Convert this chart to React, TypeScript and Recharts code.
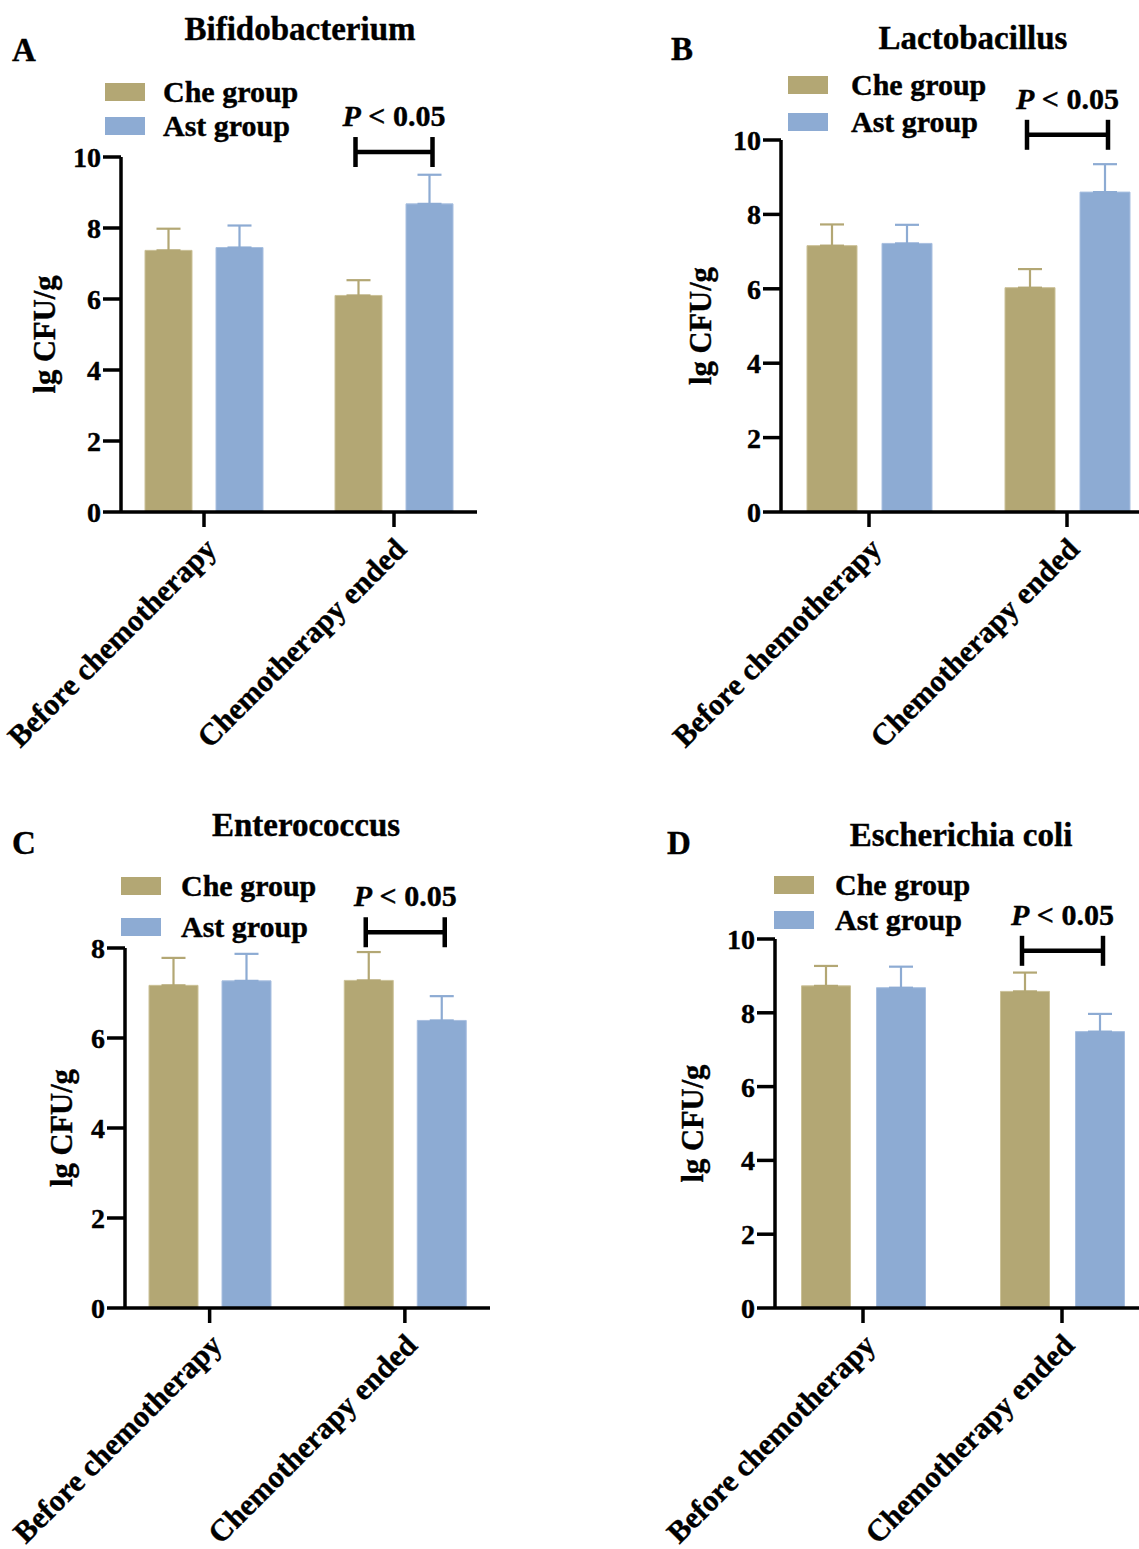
import React from 'react';
import { BarChart, Bar, XAxis, YAxis, ErrorBar, Legend, LabelList } from 'recharts';

document.body.style.margin = '0';

const FONT = '"Liberation Serif", "Times New Roman", Times, serif';
const TAN = '#b3a774';
const BLUE = '#8dabd3';

const categories = ['Before chemotherapy', 'Chemotherapy ended'];
const seriesNames = ['Che group', 'Ast group'];
const seriesColors = [TAN, BLUE];

// lg CFU/g, mean and SD (only the upper bar is drawn)
const bifidoChe = [7.37, 6.1];
const bifidoCheSd = [0.61, 0.43];
const bifidoAst = [7.45, 8.68];
const bifidoAstSd = [0.62, 0.82];

const lactoChe = [7.16, 6.03];
const lactoCheSd = [0.57, 0.5];
const lactoAst = [7.22, 8.6];
const lactoAstSd = [0.5, 0.75];

const enteroChe = [7.17, 7.28];
const enteroCheSd = [0.61, 0.63];
const enteroAst = [7.27, 6.39];
const enteroAstSd = [0.6, 0.54];

const ecoliChe = [8.73, 8.58];
const ecoliCheSd = [0.54, 0.51];
const ecoliAst = [8.68, 7.49];
const ecoliAstSd = [0.57, 0.48];

const yTicks10 = [0, 2, 4, 6, 8, 10];
const yTicks8 = [0, 2, 4, 6, 8];
const sigLevels = [10.14, 10.14, 8.35, 9.68];
const sigText = '< 0.05';

const buildRows = (che: number[], cheSd: number[], ast: number[], astSd: number[]) =>
  categories.map((name, i) => ({
    name,
    che: che[i],
    cheErr: [0, cheSd[i]],
    ast: ast[i],
    astErr: [0, astSd[i]],
  }));

const panels = [
  {
    letter: 'A', title: 'Bifidobacterium',
    rows: buildRows(bifidoChe, bifidoCheSd, bifidoAst, bifidoAstSd),
    che: bifidoChe, yMax: 10, ticks: yTicks10, sig: sigLevels[0],
    box: { left: 0, top: 0, width: 560, height: 780 },
    plot: { left: 121, top: 157, right: 477, bottom: 512 },
    pad: { left: -12, right: -12 }, barSize: 47, barGap: 24,
    yLabelX: 44,
    legend: { left: 105, top: 83, row: 33.5, textX: 163 },
    titlePos: { x: 300, y: 40 }, letterPos: { x: 12, y: 61 },
  },
  {
    letter: 'B', title: 'Lactobacillus',
    rows: buildRows(lactoChe, lactoCheSd, lactoAst, lactoAstSd),
    che: lactoChe, yMax: 10, ticks: yTicks10, sig: sigLevels[1],
    box: { left: 560, top: 0, width: 579, height: 780 },
    plot: { left: 781, top: 140, right: 1139, bottom: 512 },
    pad: { left: -11, right: -27 }, barSize: 50, barGap: 25,
    yLabelX: 700,
    legend: { left: 788, top: 76, row: 37, textX: 851 },
    titlePos: { x: 973, y: 49 }, letterPos: { x: 671, y: 60 },
  },
  {
    letter: 'C', title: 'Enterococcus',
    rows: buildRows(enteroChe, enteroCheSd, enteroAst, enteroAstSd),
    che: enteroChe, yMax: 8, ticks: yTicks8, sig: sigLevels[2],
    box: { left: 0, top: 780, width: 560, height: 769 },
    plot: { left: 125, top: 948, right: 490, bottom: 1308 },
    pad: { left: -13, right: -12.5 }, barSize: 49, barGap: 24,
    yLabelX: 61,
    legend: { left: 121, top: 877, row: 41, textX: 181 },
    titlePos: { x: 306, y: 836 }, letterPos: { x: 12, y: 854 },
  },
  {
    letter: 'D', title: 'Escherichia coli',
    rows: buildRows(ecoliChe, ecoliCheSd, ecoliAst, ecoliAstSd),
    che: ecoliChe, yMax: 10, ticks: yTicks10, sig: sigLevels[3],
    box: { left: 560, top: 780, width: 579, height: 769 },
    plot: { left: 775, top: 939, right: 1139, bottom: 1308 },
    pad: { left: -11.5, right: -22.5 }, barSize: 49, barGap: 26,
    yLabelX: 692,
    legend: { left: 774, top: 876, row: 34.5, textX: 835 },
    titlePos: { x: 961, y: 846 }, letterPos: { x: 667, y: 854 },
  },
];

type Panel = (typeof panels)[number];

const X_AXIS_H = 200;

function AngledTick(props: any) {
  const { x, y, payload } = props;
  return (
    <g transform={`translate(${x + 14},${y + 22}) rotate(-45)`}>
      <text textAnchor="end" fill="#000" stroke="#000" strokeWidth={0.4} fontSize={30.5} fontWeight={700} fontFamily={FONT}>
        {payload.value}
      </text>
    </g>
  );
}

// significance bracket drawn from the second "Che" bar, scaled from its own height
const makeBracket = (p: Panel) => (props: any) => {
  if (props.index !== 1) return null;
  const vb = props.viewBox && props.viewBox.width != null ? props.viewBox : props;
  const { x, y, width, height } = vb;
  const zeroY = y + height;
  const perUnit = height / p.che[1];
  const by = zeroY - p.sig * perUnit;
  const x1 = x + width / 2 - 3;
  const x2 = x + width * 1.5 + p.barGap + 3;
  return (
    <g>
      <line x1={x1} x2={x2} y1={by} y2={by} stroke="#000" strokeWidth={4.5} />
      <line x1={x1} x2={x1} y1={by - 15} y2={by + 15} stroke="#000" strokeWidth={4.5} />
      <line x1={x2} x2={x2} y1={by - 15} y2={by + 15} stroke="#000" strokeWidth={4.5} />
      <text x={(x1 + x2) / 2} y={by - 26} textAnchor="middle" fill="#000" stroke="#000" strokeWidth={0.4} fontSize={30} fontWeight={700} fontFamily={FONT}>
        <tspan fontStyle="italic">P</tspan> {sigText}
      </text>
    </g>
  );
};

const makeLegend = (p: Panel) => () => (
  <div style={{ fontFamily: FONT, fontWeight: 700, fontSize: 30, color: '#000', WebkitTextStroke: '0.4px #000' }}>
    {seriesNames.map((name, i) => (
      <div key={name} style={{ display: 'flex', alignItems: 'center', height: p.legend.row, whiteSpace: 'nowrap' }}>
        <div style={{ width: 40, height: 18, background: seriesColors[i], flex: 'none' }} />
        <div style={{ marginLeft: p.legend.textX - p.legend.left - 40, lineHeight: 1 }}>{name}</div>
      </div>
    ))}
  </div>
);

function PanelChart({ p }: { p: Panel }) {
  const yAxisW = p.plot.left - p.yLabelX;
  const margin = {
    top: p.plot.top - p.box.top,
    left: p.yLabelX - p.box.left,
    right: p.box.left + p.box.width - p.plot.right,
    bottom: p.box.top + p.box.height - p.plot.bottom - X_AXIS_H,
  };
  return (
    <div style={{ position: 'absolute', left: p.box.left, top: p.box.top }}>
      <BarChart width={p.box.width} height={p.box.height} data={p.rows} margin={margin} barSize={p.barSize} barGap={p.barGap}>
        <XAxis
          dataKey="name"
          interval={0}
          height={X_AXIS_H}
          padding={p.pad}
          axisLine={{ stroke: '#000', strokeWidth: 3.5 }}
          tickLine={{ stroke: '#000', strokeWidth: 3.5 }}
          tickSize={15}
          tickMargin={2}
          tick={<AngledTick />}
        />
        <YAxis
          type="number"
          domain={[0, p.yMax]}
          ticks={p.ticks}
          allowDataOverflow
          width={yAxisW}
          axisLine={{ stroke: '#000', strokeWidth: 3.5 }}
          tickLine={{ stroke: '#000', strokeWidth: 3.5 }}
          tickSize={18}
          tickMargin={2}
          tick={{ fill: '#000', stroke: '#000', strokeWidth: 0.4, fontSize: 28, fontWeight: 700, fontFamily: FONT }}
          label={{
            value: 'lg CFU/g',
            angle: -90,
            position: 'insideLeft',
            offset: 0,
            style: { textAnchor: 'middle', fill: '#000', stroke: '#000', strokeWidth: 0.4, fontSize: 30.5, fontWeight: 700, fontFamily: FONT },
          }}
        />
        <Legend
          layout="vertical"
          align="center"
          verticalAlign="middle"
          wrapperStyle={{
            top: p.legend.top - p.box.top - (p.legend.row - 18) / 2,
            left: p.legend.left - p.box.left,
            width: 'auto',
          }}
          content={makeLegend(p)}
        />
        <Bar dataKey="che" name={seriesNames[0]} fill={TAN} stroke="#cbc197" strokeWidth={1} isAnimationActive={false}>
          <ErrorBar dataKey="cheErr" direction="y" width={12} stroke={TAN} strokeWidth={2.2} isAnimationActive={false} />
          <LabelList content={makeBracket(p)} />
        </Bar>
        <Bar dataKey="ast" name={seriesNames[1]} fill={BLUE} stroke="#a8bfe0" strokeWidth={1} isAnimationActive={false}>
          <ErrorBar dataKey="astErr" direction="y" width={12} stroke={BLUE} strokeWidth={2.2} isAnimationActive={false} />
        </Bar>
      </BarChart>
    </div>
  );
}

export default function App() {
  return (
    <div style={{ position: 'relative', width: 1139, height: 1549, background: '#fff', overflow: 'hidden' }}>
      {panels.map((p) => (
        <PanelChart key={p.letter} p={p} />
      ))}
      <svg width={1139} height={1549} style={{ position: 'absolute', left: 0, top: 0, pointerEvents: 'none' }}>
        {panels.map((p) => (
          <g key={p.letter} fontFamily={FONT} fontWeight={700} fill="#000" stroke="#000" strokeWidth={0.4}>
            <text x={p.titlePos.x} y={p.titlePos.y} textAnchor="middle" fontSize={33}>
              {p.title}
            </text>
            <text x={p.letterPos.x} y={p.letterPos.y} fontSize={33}>
              {p.letter}
            </text>
          </g>
        ))}
      </svg>
    </div>
  );
}
